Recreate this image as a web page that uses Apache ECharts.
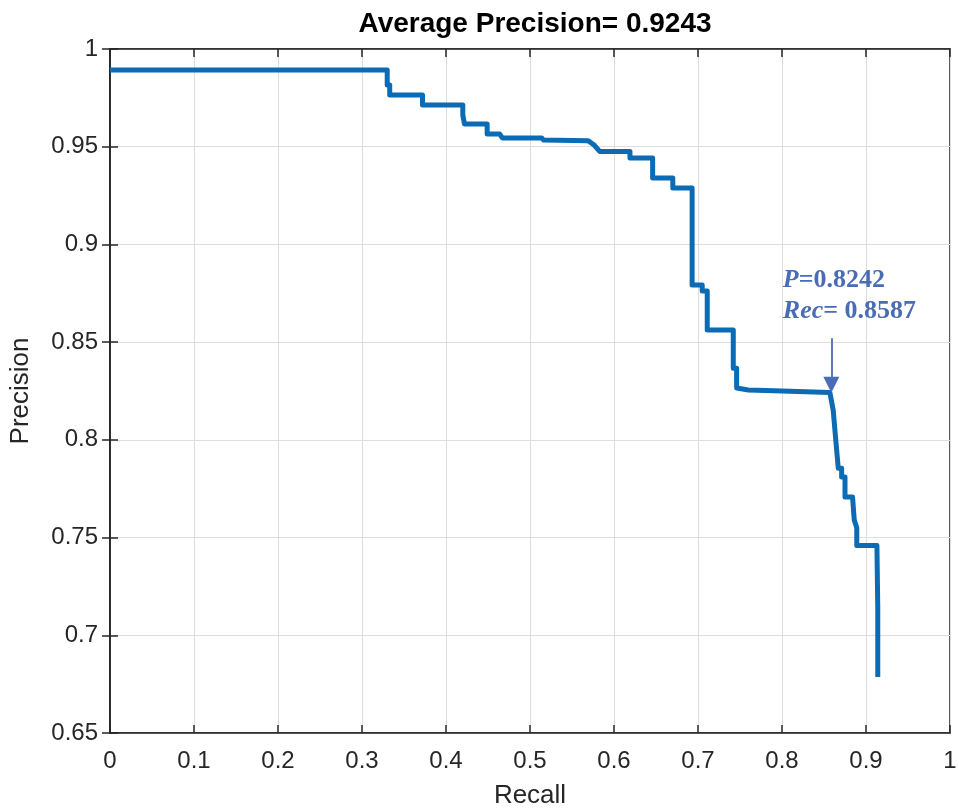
<!DOCTYPE html>
<html><head><meta charset="utf-8">
<script src="https://cdn.jsdelivr.net/npm/echarts@6/dist/echarts.min.js"></script>
<style>html,body{margin:0;padding:0;background:#fff}#c{width:959px;height:811px}</style>
</head><body><div id="c"></div>
<script>
const recall = [0, 0.330, 0.330, 0.333, 0.333, 0.372, 0.372, 0.420, 0.420, 0.422, 0.422, 0.449, 0.449, 0.464, 0.467, 0.514, 0.516, 0.569, 0.576, 0.583, 0.619, 0.619, 0.646, 0.646, 0.670, 0.670, 0.693, 0.693, 0.705, 0.705, 0.711, 0.711, 0.742, 0.742, 0.746, 0.746, 0.760, 0.800, 0.857, 0.861, 0.864, 0.867, 0.871, 0.871, 0.875, 0.875, 0.884, 0.886, 0.889, 0.889, 0.913, 0.914, 0.914];
const precision = [0.9893, 0.9893, 0.9816, 0.9816, 0.9765, 0.9765, 0.9713, 0.9713, 0.9662, 0.9662, 0.9616, 0.9616, 0.9565, 0.9565, 0.9545, 0.9545, 0.9534, 0.9531, 0.9510, 0.9476, 0.9476, 0.9442, 0.9442, 0.9340, 0.9340, 0.9289, 0.9289, 0.8792, 0.8792, 0.8762, 0.8762, 0.8562, 0.8562, 0.8367, 0.8367, 0.8265, 0.8255, 0.8250, 0.8242, 0.8150, 0.8000, 0.7855, 0.7855, 0.7810, 0.7810, 0.7707, 0.7707, 0.7590, 0.7550, 0.7460, 0.7460, 0.7144, 0.6786];
const xTicks = [0, 0.1, 0.2, 0.3, 0.4, 0.5, 0.6, 0.7, 0.8, 0.9, 1];
const yTicks = [0.65, 0.7, 0.75, 0.8, 0.85, 0.9, 0.95, 1];
const titleText = 'Average Precision= 0.9243';
const opPoint = [0.8587, 0.8242];
const annoP = '0.8242';
const annoRec = '0.8587';

const data = recall.map((r, i) => [r, precision[i]]);
const fnt = 'Liberation Sans, Arial, sans-serif';
const serif = 'Liberation Serif, Times New Roman, serif';
const lblColor = '#262626';
const annoColor = '#4a6bb5';
const fmtX = v => (Math.abs(v - 1) < 1e-9 ? '1' : (Math.abs(v) < 1e-9 ? '0' : String(+v.toFixed(2))));
const fmtY = v => String(+v.toFixed(2));

const chart = echarts.init(document.getElementById('c'), null, {renderer: 'canvas'});
chart.setOption({
  backgroundColor: '#fff',
  animation: false,
  title: {text: titleText, left: 530, top: 5, textAlign: 'center',
    textStyle: {fontFamily: fnt, fontWeight: 'bold', fontSize: 28, color: '#000'}},
  grid: {left: 110, right: 9, top: 49, bottom: 78, containLabel: false, outerBoundsMode: 'none',
    show: true, borderColor: '#262626', borderWidth: 1.5, backgroundColor: '#fff'},
  xAxis: [{
    type: 'value', min: 0, max: 1, interval: 0.1, position: 'bottom',
    name: 'Recall', nameLocation: 'middle', nameGap: 50,
    nameTextStyle: {fontFamily: fnt, fontSize: 26, color: lblColor},
    axisLine: {show: true, lineStyle: {color: '#262626', width: 1.5}},
    axisTick: {show: true, inside: true, length: 8, lineStyle: {color: '#262626', width: 1.5}},
    axisLabel: {fontFamily: fnt, fontSize: 24, color: lblColor, margin: 16, formatter: fmtX},
    splitLine: {show: true, lineStyle: {color: '#dedede', width: 1}}
  }, {
    type: 'value', min: 0, max: 1, interval: 0.1, position: 'top',
    axisLine: {show: true, lineStyle: {color: '#262626', width: 1.5}},
    axisTick: {show: true, inside: true, length: 8, lineStyle: {color: '#262626', width: 1.5}},
    axisLabel: {show: false}, splitLine: {show: false}
  }],
  yAxis: [{
    type: 'value', min: 0.65, max: 1, interval: 0.05, position: 'left',
    name: 'Precision', nameLocation: 'middle', nameGap: 76, nameRotate: 90,
    nameTextStyle: {fontFamily: fnt, fontSize: 26, color: lblColor},
    axisLine: {show: true, lineStyle: {color: '#262626', width: 1.5}},
    axisTick: {show: true, inside: true, length: 8, lineStyle: {color: '#262626', width: 1.5}},
    axisLabel: {fontFamily: fnt, fontSize: 24, color: lblColor, margin: 12, formatter: fmtY},
    splitLine: {show: true, lineStyle: {color: '#dedede', width: 1}}
  }, {
    type: 'value', min: 0.65, max: 1, interval: 0.05, position: 'right',
    axisLine: {show: true, lineStyle: {color: '#262626', width: 1.5}},
    axisTick: {show: true, inside: true, length: 8, lineStyle: {color: '#262626', width: 1.5}},
    axisLabel: {show: false}, splitLine: {show: false}
  }],
  series: [{
    type: 'line', data: data, showSymbol: false, symbol: 'none',
    lineStyle: {color: '#0b6bb5', width: 5, join: 'round'},
    markLine: {
      silent: true, animation: false,
      symbol: ['none', 'triangle'], symbolSize: [16, 16],
      lineStyle: {color: annoColor, width: 1.8, type: 'solid'},
      label: {show: false},
      data: [[{coord: [opPoint[0], 0.852]}, {coord: [opPoint[0], opPoint[1] + 0.004]}]]
    },
    markPoint: {
      silent: true, symbol: 'circle', symbolSize: 0,
      data: [{coord: [0.801, 0.8735]}],
      label: {show: true, position: 'right', distance: 0, align: 'left',
        formatter: '{i|P}{b|=' + annoP + '}\n{i|Rec}{b|= ' + annoRec + '}',
        rich: {
          i: {fontFamily: serif, fontStyle: 'italic', fontWeight: 'bold', fontSize: 26, color: annoColor, lineHeight: 31},
          b: {fontFamily: serif, fontWeight: 'bold', fontSize: 26, color: annoColor, lineHeight: 31}
        }}
    }
  }]
});
</script></body></html>
